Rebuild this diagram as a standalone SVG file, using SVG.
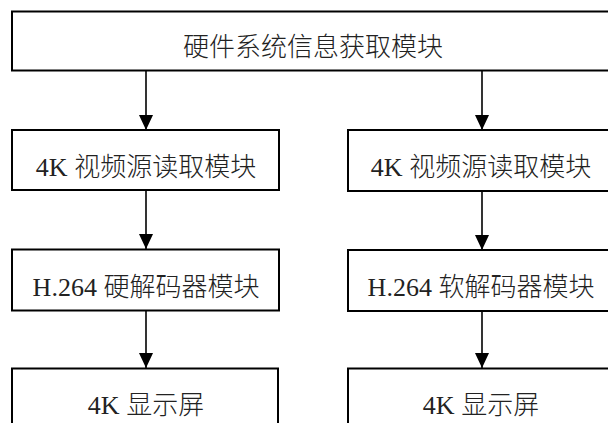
<svg xmlns="http://www.w3.org/2000/svg" width="608" height="423" viewBox="0 0 608 423">
  <defs>
    <style>
      .box { fill: #ffffff; stroke: #000000; stroke-width: 2; }
      .lbl { font-family: "Liberation Serif", "Noto Sans CJK SC", serif; font-size: 26px; font-weight: 300; fill: #222222; text-anchor: middle; }
      .edge { stroke: #000000; stroke-width: 1.6; fill: none; marker-end: url(#arrow); }
    </style>
    <marker id="arrow" viewBox="0 0 15 14" markerWidth="15" markerHeight="14" refX="15" refY="7" orient="auto" markerUnits="userSpaceOnUse">
      <path d="M0,0 L15,7 L0,14 Z" fill="#000000"/>
    </marker>
  </defs>
  <rect width="608" height="423" fill="#ffffff"/>
  <g id="connectors">
    <path class="edge" d="M146,71 L146,130"/>
    <path class="edge" d="M482,71 L482,130"/>
    <path class="edge" d="M146,191 L146,249"/>
    <path class="edge" d="M482,191 L482,250"/>
    <path class="edge" d="M146,311 L146,368"/>
    <path class="edge" d="M482,312 L482,368"/>
  </g>
  <g id="n_top">
    <rect class="box" x="12" y="11.5" width="604" height="59"/>
    <text class="lbl" x="313" y="56">硬件系统信息获取模块</text>
  </g>
  <g id="n_left1">
    <rect class="box" x="12" y="130" width="267" height="60"/>
    <text class="lbl" x="146" y="176">4K 视频源读取模块</text>
  </g>
  <g id="n_right1">
    <rect class="box" x="348" y="130" width="268" height="61"/>
    <text class="lbl" x="481" y="176">4K 视频源读取模块</text>
  </g>
  <g id="n_left2">
    <rect class="box" x="12" y="249.5" width="267" height="61"/>
    <text class="lbl" x="146" y="296">H.264 硬解码器模块</text>
  </g>
  <g id="n_right2">
    <rect class="box" x="348" y="250" width="268" height="61"/>
    <text class="lbl" x="481" y="296">H.264 软解码器模块</text>
  </g>
  <g id="n_left3">
    <rect class="box" x="12" y="368.5" width="266" height="70"/>
    <text class="lbl" x="146" y="414">4K 显示屏</text>
  </g>
  <g id="n_right3">
    <rect class="box" x="348" y="368.5" width="268" height="70"/>
    <text class="lbl" x="481" y="414">4K 显示屏</text>
  </g>
</svg>
